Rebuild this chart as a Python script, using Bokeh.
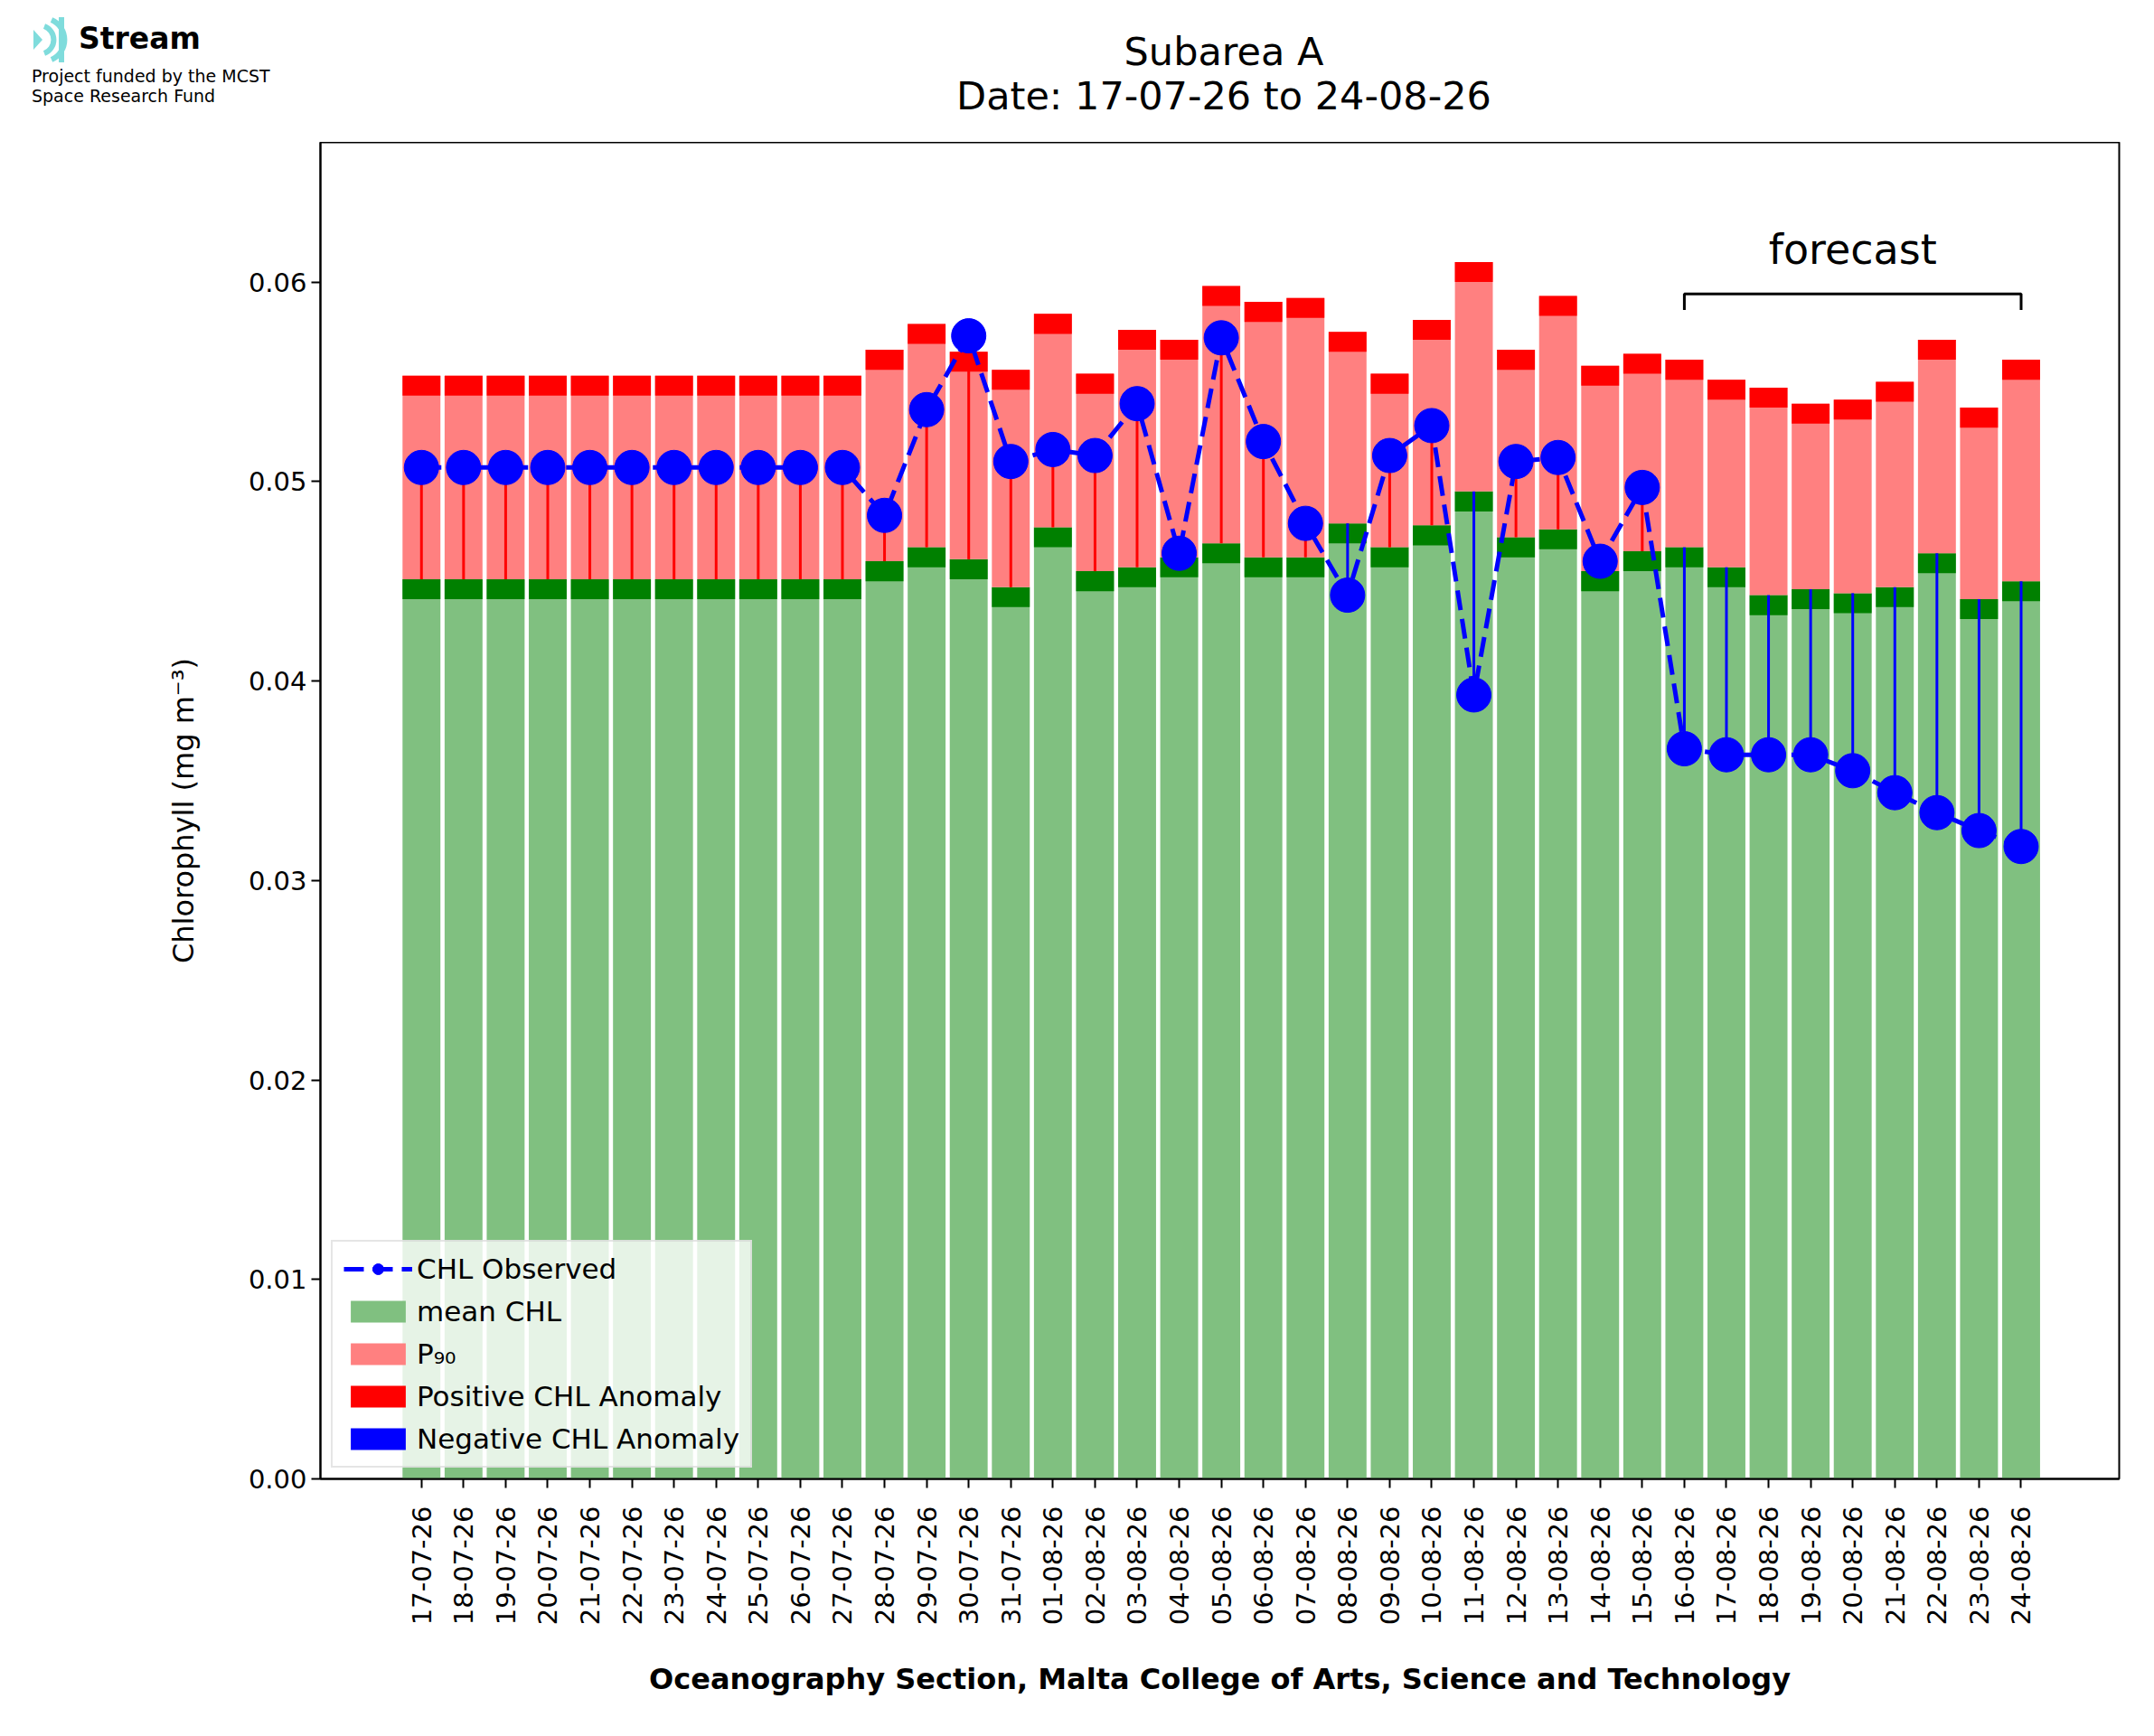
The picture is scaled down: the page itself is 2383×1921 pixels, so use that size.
import numpy as np
from bokeh.plotting import figure
from bokeh.layouts import column
from bokeh.models import (ColumnDataSource, FixedTicker, Legend, LegendItem,
                          NumeralTickFormatter, Div)
from bokeh.core.properties import value
from bokeh.embed import file_html
from bokeh.resources import INLINE

dates = ["17-07-26","18-07-26","19-07-26","20-07-26","21-07-26","22-07-26","23-07-26",
         "24-07-26","25-07-26","26-07-26","27-07-26","28-07-26","29-07-26","30-07-26",
         "31-07-26","01-08-26","02-08-26","03-08-26","04-08-26","05-08-26","06-08-26",
         "07-08-26","08-08-26","09-08-26","10-08-26","11-08-26","12-08-26","13-08-26",
         "14-08-26","15-08-26","16-08-26","17-08-26","18-08-26","19-08-26","20-08-26",
         "21-08-26","22-08-26","23-08-26","24-08-26"]
mean_chl = [0.0451]*11 + [0.0460,0.0467,0.0461,0.0447,0.0477,0.0455,0.0457,0.0462,0.0469,
            0.0462,0.0462,0.0479,0.0467,0.0478,0.0495,0.0472,0.0476,0.0455,0.0465,
            0.0467,0.0457,0.0443,0.0446,0.0444,0.0447,0.0464,0.0441,0.0450]
p90 = [0.0553]*11 + [0.0566,0.0579,0.0565,0.0556,0.0584,0.0554,0.0576,0.0571,0.0598,
       0.0590,0.0592,0.0575,0.0554,0.0581,0.0610,0.0566,0.0593,0.0558,0.0564,
       0.0561,0.0551,0.0547,0.0539,0.0541,0.0550,0.0571,0.0537,0.0561]
observed = [0.0507]*11 + [0.0483,0.0536,0.0573,0.0510,0.0516,0.0513,0.0539,0.0464,0.0572,
            0.0520,0.0479,0.0443,0.0513,0.0528,0.0393,0.0510,0.0512,0.0460,0.0497,
            0.0366,0.0363,0.0363,0.0363,0.0355,0.0344,0.0334,0.0325,0.0317]
forecast_start = "16-08-26"
title_lines = ["Subarea A", "Date: 17-07-26 to 24-08-26"]
band = 0.001
FONT = value("DejaVu Sans")

n = len(dates)
x = np.arange(n)
mean_a = np.array(mean_chl); p90_a = np.array(p90); obs_a = np.array(observed)

W = 2360
TOP_H = 147
# ---------- header (logo + titles) ----------
icon = ('<svg width="46" height="50" style="position:absolute;left:28px;top:14px">'
        '<path d="M4 14 L14 25 L4 36 Z" fill="#7FDCDC"/>'
        '<path d="M16 10 A16 16 0 0 1 16 40" stroke="#7FDCDC" stroke-width="6" fill="none"/>'
        '<path d="M24 3 A24 24 0 0 1 24 47" stroke="#7FDCDC" stroke-width="6" fill="none"/>'
        '<path d="M32 0 L38 0 L38 50 L32 50" fill="#7FDCDC"/></svg>')
html = (f'<div style="position:relative;width:{W}px;height:{TOP_H}px;font-family:\'DejaVu Sans\';color:black">'
        + icon +
        '<span style="position:absolute;left:82px;top:18px;font-size:33px;font-weight:bold;line-height:40px">Stream</span>'
        '<span style="position:absolute;left:30px;top:68px;font-size:19px;line-height:22px;white-space:nowrap">'
        'Project funded by the MCST<br>Space Research Fund</span>'
        f'<div style="position:absolute;left:354px;width:{W-370}px;top:28px;text-align:center;font-size:43px;line-height:49px">'
        f'{title_lines[0]}<br>{title_lines[1]}</div></div>')
h = Div(text=html, width=W, height=TOP_H)

# ---------- main chart ----------
p = figure(width=W, height=1900 - TOP_H, output_backend="svg", toolbar_location=None,
           x_range=(-2.4, n - 1 + 2.33), y_range=(0, 0.067),
           min_border_left=354, min_border_right=16, min_border_top=0, min_border_bottom=274)
p.grid.visible = False
p.outline_line_color = "black"; p.outline_line_width = 2

src = ColumnDataSource(dict(x=x, mean=mean_a, p90=p90_a, obs=obs_a,
                            mb=mean_a - band, pb=p90_a - band))
w = 0.9
r_green = p.vbar(x="x", width=w, bottom=0, top="mean", source=src, fill_color="#80C080", line_color=None)
p.vbar(x="x", width=w, bottom="mb", top="mean", source=src, fill_color="#008000", line_color=None)
r_p90 = p.vbar(x="x", width=w, bottom="mean", top="p90", source=src, fill_color="#FF8080", line_color=None)
r_pos = p.vbar(x="x", width=w, bottom="pb", top="p90", source=src, fill_color="#FF0000", line_color=None)
r_neg = p.vbar(x=[-100], width=w, bottom=[0], top=[0.01], fill_color="#0000FF", line_color=None)

cols = ["#FF0000" if o > m else "#0000FF" for o, m in zip(obs_a, mean_a)]
p.segment(x0=x, x1=x, y0=mean_a, y1=obs_a, line_color=cols, line_width=3)

r_line = p.line(x, obs_a, line_color="#0000FF", line_width=5, line_dash="22 10")
r_pts = p.scatter(x, obs_a, size=38, fill_color="#0000FF", line_color="#0000FF")

fs = dates.index(forecast_start)
p.line([fs, fs, n - 1, n - 1], [0.0586, 0.0594, 0.0594, 0.0586], line_color="black", line_width=3)
p.text(x=[(fs + n - 1) / 2], y=[0.0604], text=["forecast"], text_align="center",
       text_baseline="bottom", text_font_size="46px", text_color="black", text_font=FONT)

p.xaxis.ticker = FixedTicker(ticks=list(x))
p.xaxis.major_label_overrides = {int(i): d for i, d in enumerate(dates)}
p.xaxis.major_label_orientation = np.pi / 2
p.yaxis.ticker = FixedTicker(ticks=[0, 0.01, 0.02, 0.03, 0.04, 0.05, 0.06])
p.yaxis.formatter = NumeralTickFormatter(format="0.00")
for ax in (p.xaxis, p.yaxis):
    ax.major_label_text_font_size = "29px"
    ax.major_label_text_color = "black"
    ax.major_label_text_font = "DejaVu Sans"
    ax.axis_line_width = 2
    ax.major_tick_line_width = 2
    ax.major_tick_out = 10
    ax.major_tick_in = 0
    ax.minor_tick_line_color = None
    ax.axis_label_text_color = "black"
    ax.axis_label_text_font = "DejaVu Sans"
    ax.axis_label_text_font_size = "32px"
p.xaxis.major_label_standoff = 20
p.yaxis.axis_label = "Chlorophyll (mg m⁻³)"
p.xaxis.axis_label = "Oceanography Section, Malta College of Arts, Science and Technology"
p.yaxis.axis_label_text_font_style = "normal"
p.xaxis.axis_label_text_font_style = "bold"
p.xaxis.axis_label_standoff = 38
p.yaxis.axis_label_standoff = 50

legend = Legend(items=[
    LegendItem(label="CHL Observed", renderers=[r_line, r_pts]),
    LegendItem(label="mean CHL", renderers=[r_green]),
    LegendItem(label="P₉₀", renderers=[r_p90]),
    LegendItem(label="Positive CHL Anomaly", renderers=[r_pos]),
    LegendItem(label="Negative CHL Anomaly", renderers=[r_neg]),
], location="bottom_left")
legend.label_text_font_size = "31px"
legend.label_text_font = "DejaVu Sans"
legend.label_text_color = "black"
legend.glyph_width = 76; legend.glyph_height = 30
legend.spacing = 11; legend.padding = 12; legend.margin = 12
legend.border_line_color = "#cccccc"; legend.border_line_width = 2
legend.background_fill_alpha = 0.8
p.add_layout(legend)

open("out.html", "w").write(file_html(column(h, p, spacing=0), INLINE))
